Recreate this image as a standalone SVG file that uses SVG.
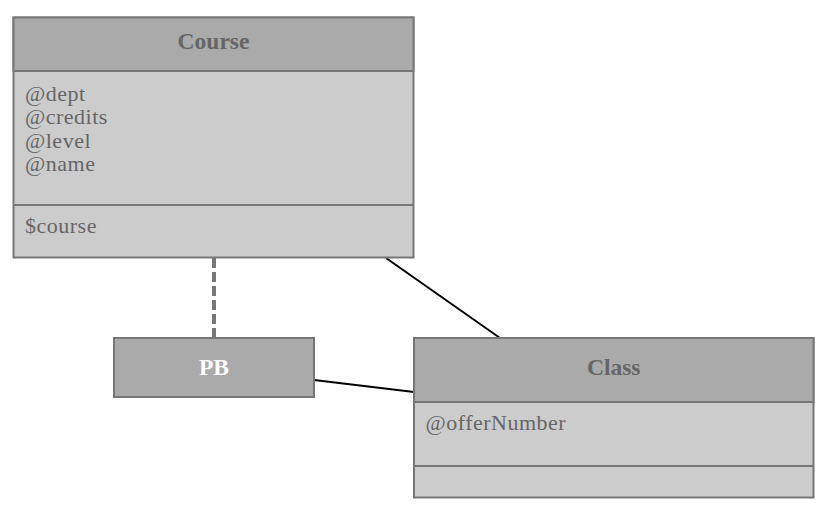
<svg xmlns="http://www.w3.org/2000/svg" width="826" height="516" viewBox="0 0 826 516">
<style>
.hdr{fill:#aaaaaa;stroke:#777777;stroke-width:2}
.body{fill:#cccccc;stroke:#777777;stroke-width:2}
.t{font-family:"Liberation Serif","Times New Roman",serif;font-size:22px;letter-spacing:0.5px;fill:#666666}
.b{font-weight:bold;text-anchor:middle;font-size:23.5px;letter-spacing:0}
.w{fill:#ffffff}
.link{stroke:#000000;stroke-width:2;fill:none}
.dash{stroke:#777777;stroke-width:4;stroke-dasharray:10 4;fill:none}
</style>
<rect width="826" height="516" fill="#ffffff"/>
<g id="connectors">
<line class="dash" x1="214" y1="258" x2="214" y2="338"/>
<line class="link" x1="386" y1="258" x2="500" y2="338"/>
<line class="link" x1="314" y1="380" x2="414" y2="392"/>
</g>
<g id="Course">
<rect class="body" x="13.5" y="17.5" width="400" height="240"/>
<rect class="hdr" x="13.5" y="17.5" width="400" height="53.5"/>
<line x1="13.5" y1="205" x2="413.5" y2="205" stroke="#777777" stroke-width="2"/>
<text class="t b" x="213.5" y="48.5">Course</text>
<text class="t" x="25" y="101">@dept</text>
<text class="t" x="25" y="124.3">@credits</text>
<text class="t" x="25" y="147.6">@level</text>
<text class="t" x="25" y="170.9">@name</text>
<text class="t" x="25" y="233">$course</text>
</g>
<g id="PB">
<rect class="hdr" x="114" y="338" width="200" height="59"/>
<text class="t b w" x="214" y="375">PB</text>
</g>
<g id="Class">
<rect class="body" x="414" y="338" width="399.5" height="159.5"/>
<rect class="hdr" x="414" y="338" width="399.5" height="64"/>
<line x1="414" y1="466" x2="813.5" y2="466" stroke="#777777" stroke-width="2"/>
<text class="t b" x="613.75" y="375">Class</text>
<text class="t" x="425.5" y="430">@offerNumber</text>
</g>
</svg>
